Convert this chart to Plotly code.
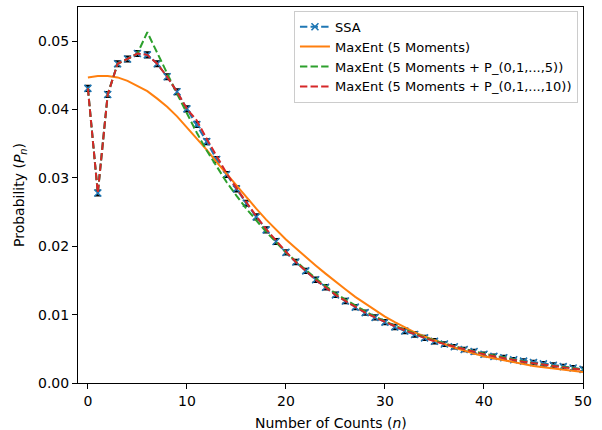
import plotly.graph_objects as go

n = list(range(51))

ssa = [0.0431, 0.0278, 0.0422, 0.0467, 0.0474, 0.0482, 0.0480, 0.0467, 0.0448, 0.0426,
       0.0401, 0.0378, 0.0353, 0.0327, 0.0305, 0.0284, 0.0263, 0.0243, 0.0224, 0.0207,
       0.0191, 0.0177, 0.0164, 0.0151, 0.0140, 0.0129, 0.0120, 0.0111, 0.0103, 0.0096,
       0.0089, 0.0082, 0.0076, 0.0071, 0.0066, 0.0061, 0.0057, 0.0053, 0.0049, 0.0046,
       0.0042, 0.0039, 0.0037, 0.0034, 0.0032, 0.0030, 0.0028, 0.0026, 0.0024, 0.0022,
       0.0020]

ssa_err = [0.0004] * 20 + [0.00035] * 16 + [0.0003] * 15

maxent5 = [0.0447, 0.0449, 0.0449, 0.0447, 0.0442, 0.0435, 0.0427, 0.0416, 0.0404, 0.0390,
           0.0374, 0.0358, 0.0341, 0.0323, 0.0306, 0.0289, 0.0271, 0.0255, 0.0239, 0.0224,
           0.0210, 0.0197, 0.0184, 0.0172, 0.0160, 0.0148, 0.0137, 0.0126, 0.0116, 0.0106,
           0.0097, 0.0089, 0.0081, 0.0074, 0.0068, 0.0062, 0.0057, 0.0052, 0.0047, 0.0043,
           0.0039, 0.0036, 0.0033, 0.0030, 0.0027, 0.0025, 0.0023, 0.0021, 0.0019, 0.0018,
           0.0016]

maxent5_p5 = [0.0431, 0.0278, 0.0422, 0.0467, 0.0474, 0.0482, 0.0513, 0.0482, 0.0453, 0.0423,
              0.0394, 0.0366, 0.0340, 0.0316, 0.0294, 0.0274, 0.0255, 0.0238, 0.0221, 0.0206,
              0.0191, 0.0178, 0.0165, 0.0153, 0.0142, 0.0131, 0.0122, 0.0113, 0.0105, 0.0097,
              0.0090, 0.0084, 0.0078, 0.0072, 0.0067, 0.0062, 0.0058, 0.0053, 0.0050, 0.0046,
              0.0043, 0.0040, 0.0037, 0.0034, 0.0032, 0.0029, 0.0027, 0.0025, 0.0023, 0.0021,
              0.0020]

maxent5_p10 = [0.0431, 0.0278, 0.0422, 0.0467, 0.0474, 0.0482, 0.0480, 0.0467, 0.0448, 0.0426,
               0.0401, 0.0384, 0.0357, 0.0331, 0.0307, 0.0285, 0.0264, 0.0244, 0.0225, 0.0208,
               0.0192, 0.0177, 0.0164, 0.0151, 0.0140, 0.0129, 0.0120, 0.0111, 0.0103, 0.0096,
               0.0089, 0.0083, 0.0077, 0.0071, 0.0066, 0.0061, 0.0057, 0.0053, 0.0049, 0.0045,
               0.0042, 0.0039, 0.0036, 0.0034, 0.0031, 0.0029, 0.0027, 0.0025, 0.0023, 0.0021,
               0.0019]

x_ticks = [0, 10, 20, 30, 40, 50]
y_ticks = [0.00, 0.01, 0.02, 0.03, 0.04, 0.05]

BLUE, ORANGE, GREEN, RED = "#1f77b4", "#ff7f0e", "#2ca02c", "#d62728"
DASH = "7.4px,3.2px"
FONT = "DejaVu Sans"

fig = go.Figure()
fig.add_trace(go.Scatter(
    x=n, y=ssa, name="SSA", mode="lines+markers",
    line=dict(color=BLUE, width=2, dash=DASH),
    marker=dict(symbol="x-thin", size=7, line=dict(color=BLUE, width=1.6), color=BLUE),
    error_y=dict(type="data", array=ssa_err, visible=True, color="black", thickness=1.6, width=3),
))
fig.add_trace(go.Scatter(
    x=n, y=maxent5, name="MaxEnt (5 Moments)", mode="lines",
    line=dict(color=ORANGE, width=2),
))
fig.add_trace(go.Scatter(
    x=n, y=maxent5_p5, name="MaxEnt (5 Moments + P_(0,1,...,5))", mode="lines",
    line=dict(color=GREEN, width=2, dash=DASH),
))
fig.add_trace(go.Scatter(
    x=n, y=maxent5_p10, name="MaxEnt (5 Moments + P_(0,1,...,10))", mode="lines",
    line=dict(color=RED, width=2, dash=DASH),
))

axis_common = dict(
    showline=True, linecolor="black", linewidth=1, mirror=True,
    ticks="outside", ticklen=5, tickwidth=1, tickcolor="black",
    showgrid=False, zeroline=False, automargin=False,
    tickfont=dict(family=FONT, size=14, color="black"),
)

fig.update_layout(
    width=602, height=430,
    margin=dict(l=78, r=19, t=7, b=47),
    paper_bgcolor="white", plot_bgcolor="white",
    font=dict(family=FONT, size=14, color="black"),
    xaxis=dict(range=[-1, 50], tickvals=x_ticks, ticktext=[str(v) for v in x_ticks],
               **axis_common),
    yaxis=dict(range=[0, 0.055], tickvals=y_ticks, ticktext=[f"{v:.2f}" for v in y_ticks],
               **axis_common),
    legend=dict(x=0.99, y=0.99, xanchor="right", yanchor="top",
                bgcolor="rgba(255,255,255,0.8)", bordercolor="#cccccc", borderwidth=1,
                font=dict(family=FONT, size=13), itemwidth=30,
                tracegroupgap=0),
    showlegend=True,
    annotations=[
        dict(text="Number of Counts (<i>n</i>)", xref="paper", yref="paper",
             x=0.5, y=0, yshift=-40, xanchor="center", yanchor="middle",
             showarrow=False, font=dict(family=FONT, size=14, color="black")),
        dict(text="Probability (<i>P</i><sub><i>n</i></sub>)", xref="paper", yref="paper",
             x=0, y=0.5, xshift=-58, xanchor="center", yanchor="middle", textangle=-90,
             showarrow=False, font=dict(family=FONT, size=14, color="black")),
    ],
)

fig.write_html("out.html", config={"displayModeBar": False},
               post_script="document.body.style.margin='0';")
